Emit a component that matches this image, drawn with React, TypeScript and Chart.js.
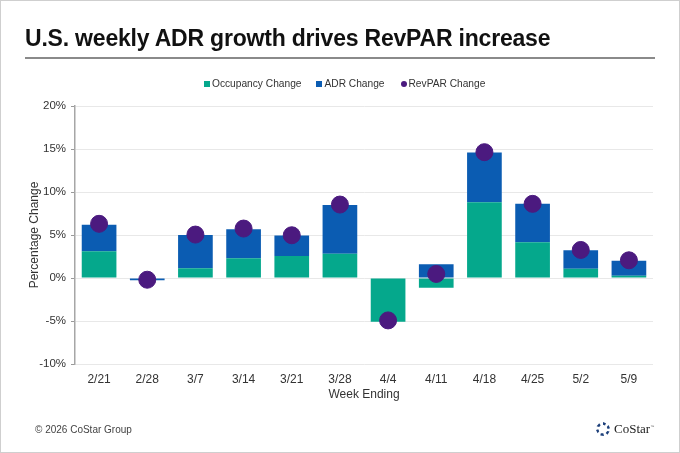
import React, { useEffect, useRef } from "react";
import { Chart, registerables } from "chart.js";

Chart.register(...registerables);

const weeks = ["2/21", "2/28", "3/7", "3/14", "3/21", "3/28", "4/4", "4/11", "4/18", "4/25", "5/2", "5/9"];
const occupancyChange = [3.1, -0.05, 1.13, 2.29, 2.56, 2.83, -5.1, -1.13, 8.81, 4.15, 1.09, 0.27];
const adrChange = [3.1, -0.2, 3.87, 3.38, 2.37, 5.67, 0.05, 1.59, 5.79, 4.47, 2.13, 1.75];
const revparChange = [6.3, -0.2, 5.05, 5.75, 4.97, 8.54, -4.93, 0.47, 14.63, 8.62, 3.26, 2.06];
const yTicks = [-10, -5, 0, 5, 10, 15, 20];

const TEAL = "#05a88c";
const BLUE = "#0b5cb2";
const PURPLE = "#4b1a7f";
const FONT = "'Liberation Sans', Arial, sans-serif";

export default function App() {
  const ref = useRef<HTMLCanvasElement | null>(null);

  useEffect(() => {
    document.body.style.margin = "0";
    const canvas = ref.current;
    if (!canvas) return;
    const chart = new Chart(canvas, {
      type: "bar",
      data: {
        labels: weeks,
        datasets: [
          {
            type: "scatter" as any,
            label: "RevPAR Change",
            data: revparChange as any,
            backgroundColor: PURPLE,
            borderColor: PURPLE,
            pointRadius: 8.5,
            pointHoverRadius: 8.5,
            showLine: false,
            order: 0,
          } as any,
          {
            label: "Occupancy Change",
            data: occupancyChange,
            backgroundColor: TEAL,
            stack: "s",
            order: 1,
          },
          {
            label: "ADR Change",
            data: adrChange,
            backgroundColor: BLUE,
            stack: "s",
            order: 2,
          },
        ],
      },
      options: {
        animation: false,
        responsive: false,
        devicePixelRatio: 1,
        layout: { padding: { left: 20, right: 27, top: 106, bottom: 50 } },
        plugins: {
          legend: { display: false },
          tooltip: { enabled: false },
        },
        scales: {
          x: {
            type: "category",
            stacked: true,
            grid: { display: false, drawTicks: false },
            border: { display: false },
            ticks: { color: "#333", font: { family: FONT, size: 12 }, padding: 8 },
            title: {
              display: true,
              text: "Week Ending",
              color: "#333",
              font: { family: FONT, size: 12 },
              padding: { top: 0, bottom: 1 },
            },
            afterFit: (s: any) => {
              s.height = 453 - 364 - 50;
            },
          },
          y: {
            stacked: true,
            min: -10,
            max: 20,
            afterBuildTicks: (s: any) => {
              s.ticks = yTicks.map((v) => ({ value: v }));
            },
            grid: { color: "#e8e8e8", tickColor: "#999", tickLength: 4, lineWidth: 1 },
            border: { display: true, color: "#a6a6a6", width: 1.5 },
            ticks: {
              color: "#333",
              font: { family: FONT, size: 11.5 },
              padding: 5,
              callback: (v: any) => `${v}%`,
            },
            title: {
              display: true,
              text: "Percentage Change",
              color: "#333",
              font: { family: FONT, size: 12 },
              padding: { top: 7, bottom: 0 },
            },
            afterFit: (s: any) => {
              s.width = 55;
            },
          },
        },
      },
    });
    return () => chart.destroy();
  }, []);

  const legendItem = (color: string, text: string, round: boolean, ml: number) => (
    <span style={{ display: "inline-flex", alignItems: "center", marginLeft: ml }}>
      <span
        style={{
          display: "inline-block",
          width: 6,
          height: 6,
          background: color,
          borderRadius: round ? "50%" : 0,
          marginRight: 2,
        }}
      />
      <span>{text}</span>
    </span>
  );

  return (
    <div
      style={{
        position: "absolute",
        left: 0,
        top: 0,
        width: 680,
        height: 453,
        background: "#fff",
        boxSizing: "border-box",
        border: "1px solid #cfcfcf",
        fontFamily: FONT,
        overflow: "hidden",
      }}
    >
      <canvas ref={ref} width={680} height={453} style={{ position: "absolute", left: -1, top: -1 }} />
      <div
        style={{
          position: "absolute",
          left: 24,
          top: 24,
          fontSize: 23,
          fontWeight: "bold",
          color: "#111",
          whiteSpace: "nowrap",
          letterSpacing: -0.2,
        }}
      >
        U.S. weekly ADR growth drives RevPAR increase
      </div>
      <div style={{ position: "absolute", left: 24, top: 56, width: 630, height: 2, background: "#8a8a8a" }} />
      <div
        style={{
          position: "absolute",
          left: 203,
          top: 77,
          fontSize: 10.2,
          color: "#333",
          whiteSpace: "nowrap",
          display: "flex",
        }}
      >
        {legendItem(TEAL, "Occupancy Change", false, 0)}
        {legendItem(BLUE, "ADR Change", false, 15)}
        {legendItem(PURPLE, "RevPAR Change", true, 16)}
      </div>
      <div style={{ position: "absolute", left: 34, top: 423, fontSize: 10, color: "#444" }}>© 2026 CoStar Group</div>
      <div style={{ position: "absolute", left: 594, top: 420, display: "flex", alignItems: "center" }}>
        <svg width="16" height="16" viewBox="0 0 16 16">
          <g fill="#1c3f7a">
            <path d="M8 1 L11 2.2 L10 4.6 L8 3.8 Z" />
            <path d="M13.5 4 L15 7.3 L12.6 8 L11.8 6 Z" />
            <path d="M14.5 10.5 L12.5 13.8 L10.7 12 L12.3 10 Z" />
            <path d="M9 15 L5.3 14.6 L5.8 12.2 L8.3 12.3 Z" />
            <path d="M2.6 12.3 L1 9 L3.3 8.3 L4.2 10.3 Z" />
            <path d="M1.6 5.2 L4.2 2.3 L5.6 4.2 L4.2 6 Z" />
          </g>
        </svg>
        <span style={{ fontFamily: "'Liberation Serif', 'DejaVu Serif', serif", fontSize: 13, color: "#222", marginLeft: 3 }}>
          CoStar
        </span>
        <span style={{ fontSize: 4, color: "#666", alignSelf: "flex-start", marginTop: 3 }}>™</span>
      </div>
    </div>
  );
}
